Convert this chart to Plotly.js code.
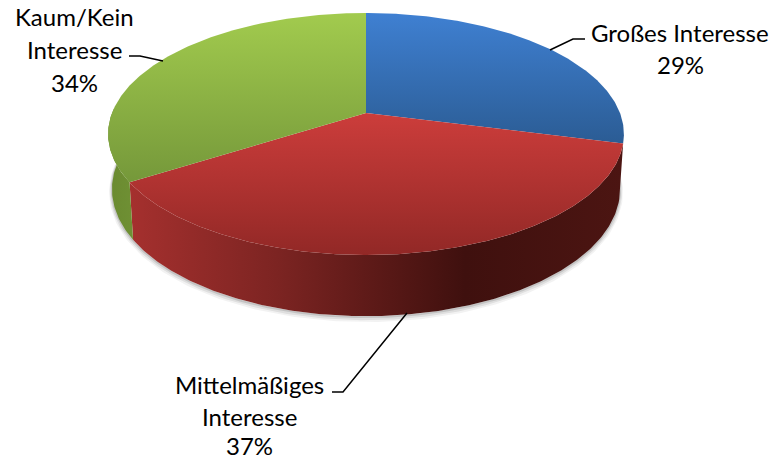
<!DOCTYPE html>
<html><head><meta charset="utf-8">
<script src="https://cdn.plot.ly/plotly-3.0.1.min.js"></script>
<style>html,body{margin:0;padding:0;background:#fff}#c{width:774px;height:460px}</style>
</head><body><div id="c"></div>
<script>
const categories = ["Großes Interesse", "Mittelmäßiges Interesse", "Kaum/Kein Interesse"];
const shares = [29, 37, 34];
const topColors = [
  [[0,"#2b5c94"],[1,"#3f80d2"]],
  [[0,"#922826"],[1,"#cc3d3b"]],
  [[0,"#75983a"],[1,"#a2cb4e"]]
];
const wallColors = [
  [[0,"#2b5c94"],[1,"#1f4470"]],
  [[0,"#a5302e"],[0.3,"#7c2422"],[0.68,"#3f100e"],[1,"#4c1512"]],
  [[0,"#6a8a30"],[1,"#6f9034"]]
];
const labelLines = [["Großes Interesse","29%"],["Mittelmäßiges","Interesse","37%"],["Kaum/Kein","Interesse","34%"]];
const labelX = [680, 249, 74];
const labelY = [[32,64],[384,416,445],[16,49,82]];
const leaders = [
  {x:[550,573,585], y:[50,39,39]},
  {x:[407,343,332], y:[313,392,392]},
  {x:[129,140,163], y:[56,56,61]}
];
// projected-disc geometry
const CX=366, CY=113, R=254, A=117.4, K=0.1736, WX=0.985, WY=1.05, DEPTH=54;
const rim = t => { const u=Math.sin(t), v=Math.cos(t), w=1+K*v; return [R*u/w, -A*v/w]; };
const arc = (a,b) => { const n=Math.max(2,Math.ceil(Math.abs(b-a)/0.01)); const o=[]; for(let i=0;i<=n;i++) o.push(a+(b-a)*i/n); return o; };
const tot = shares.reduce((s,v)=>s+v,0);
const starts=[]; let acc=0; shares.forEach(v=>{starts.push(acc/tot*2*Math.PI); acc+=v;});
const ends = shares.map((v,i)=>starts[i]+v/tot*2*Math.PI);
const traces=[];
const poly=(xs,ys,grad,type,name)=>({type:"scatter",mode:"lines",x:xs,y:ys,fill:"toself",line:{width:0,color:"rgba(0,0,0,0)"},
  fillgradient:{type:type,colorscale:grad},hoverinfo:"name",name:name,showlegend:false});
// soft shadow
[[3,"rgba(0,0,0,0.05)"],[2,"rgba(0,0,0,0.08)"],[1,"rgba(0,0,0,0.12)"]].forEach(([d,c])=>{
  const ts=arc(1.6,4.75), xs=[], ys=[];
  ts.forEach(t=>{const p=rim(t); xs.push(CX+p[0]*WX); ys.push(CY+p[1]*WY+DEPTH+d);});
  traces.push({type:"scatter",mode:"lines",x:xs,y:ys,line:{width:2*d,color:c},hoverinfo:"skip",showlegend:false});
});
// walls: visible front part only
[1,2].forEach(i=>{
  const a=starts[i], b=Math.min(ends[i],4.75), ts=arc(a,b), xs=[], ys=[];
  ts.forEach(t=>{const p=rim(t); xs.push(CX+p[0]); ys.push(CY+p[1]);});
  ts.slice().reverse().forEach(t=>{const p=rim(t); xs.push(CX+p[0]*WX); ys.push(CY+p[1]*WY+DEPTH);});
  xs.push(xs[0]); ys.push(ys[0]);
  traces.push(poly(xs,ys,wallColors[i],"horizontal",categories[i]));
});
// top faces
shares.forEach((v,i)=>{
  const xs=[CX], ys=[CY];
  arc(starts[i],ends[i]).forEach(t=>{const p=rim(t); xs.push(CX+p[0]); ys.push(CY+p[1]);});
  xs.push(CX); ys.push(CY);
  traces.push(poly(xs,ys,topColors[i],"vertical",categories[i]));
});
leaders.forEach(l=>traces.push({type:"scatter",mode:"lines",x:l.x,y:l.y,line:{color:"#000",width:1.5},hoverinfo:"skip",showlegend:false}));
const annotations=[];
labelLines.forEach((lines,i)=>lines.forEach((txt,j)=>annotations.push({
  x:labelX[i],y:labelY[i][j],xref:"x",yref:"y",text:txt,showarrow:false,xanchor:"center",yanchor:"middle",
  font:{family:"Lato, sans-serif",size:24,color:"#000"}
})));
const hidden={visible:false,fixedrange:true};
Plotly.newPlot("c",traces,{
  width:774,height:460,margin:{l:0,r:0,t:0,b:0},paper_bgcolor:"#fff",plot_bgcolor:"#fff",showlegend:false,
  xaxis:Object.assign({range:[0,774]},hidden),
  yaxis:Object.assign({range:[460,0]},hidden),
  annotations:annotations
},{displayModeBar:false,staticPlot:false});
</script></body></html>
